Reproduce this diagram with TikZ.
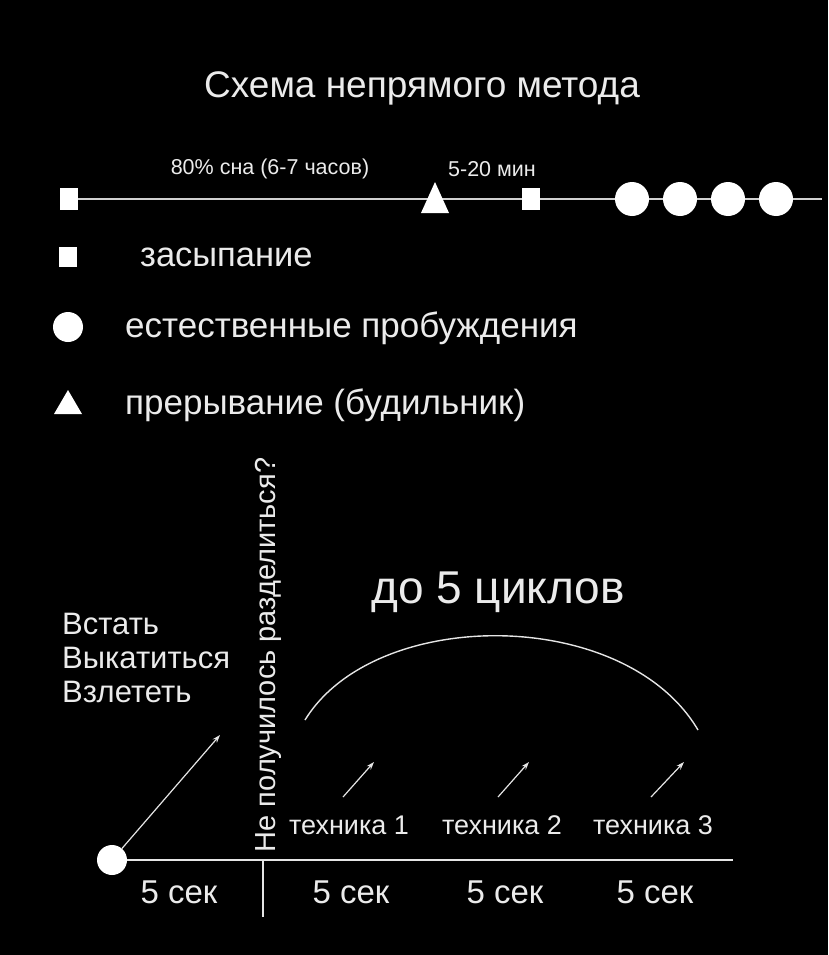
\documentclass[tikz,border=0pt]{standalone}
\usepackage{fontspec}
\setmainfont{Liberation Sans}
\usetikzlibrary{arrows.meta}
\pgfdeclarelayer{bg}
\pgfdeclarelayer{lines}
\pgfsetlayers{bg,lines,main}
\newcommand{\fsz}[1]{\fontsize{#1}{#1}\selectfont}
\tikzset{
  sq/.style={fill=white, draw=none, minimum width=18pt, minimum height=22pt, inner sep=0pt},
  sqs/.style={fill=white, draw=none, minimum width=18pt, minimum height=20pt, inner sep=0pt},
  dot/.style={circle, fill=white, draw=none, minimum size=34pt, inner sep=0pt},
  dots/.style={circle, fill=white, draw=none, minimum size=30pt, inner sep=0pt},
  tri/.style={fill=white, draw=none},
  txt/.style={text=white!92!black, inner sep=0pt},
  tl/.style={draw=white!82!black, line width=2pt},
  ar/.style={draw=white!90!black, line width=1.2pt, -{Stealth[length=8pt,width=5.5pt]}},
  ln/.style={draw=white!90!black, line width=1.4pt},
}
\begin{document}
\begin{tikzpicture}[x=1pt,y=-1pt]
\begin{pgfonlayer}{bg}
\fill[black] (0,0) rectangle (828,955);
\end{pgfonlayer}
\useasboundingbox (0,0) rectangle (828,955);

% title
\node[txt, font=\fsz{37}] (title) at (422,88) {Схема непрямого метода};

% timeline
\node[sq] (s1) at (69,199) {};
\node[tri] (t1) at (435,200) {};
\fill[white] (421,213) -- (435,182) -- (449,213) -- cycle;
\node[sq] (s2) at (531,199) {};
\node[dot] (c1) at (632,199) {};
\node[dot] (c2) at (680,199) {};
\node[dot] (c3) at (728,199) {};
\node[dot] (c4) at (776,199) {};
\coordinate (tend) at (822,199);
\begin{pgfonlayer}{lines}
\draw[tl] (s1) -- (tend);
\end{pgfonlayer}
\node[txt, font=\fsz{21.5}] (lab1) at (270,169) {80\% сна (6-7 часов)};
\node[txt, font=\fsz{21.5}] (lab2) at (492,169) {5-20 мин};

% legend
\node[sqs] (ls) at (68,257) {};
\node[txt, font=\fsz{34.5}, anchor=west] (lst) at (140,257) {засыпание};
\node[dots] (lc) at (68,327) {};
\node[txt, font=\fsz{35}, anchor=west] (lct) at (125,328) {естественные пробуждения};
\fill[white] (54,414) -- (68,390) -- (82,414) -- cycle;
\coordinate (lt) at (68,404);
\node[txt, font=\fsz{35}, anchor=west] (ltt) at (125,405) {прерывание (будильник)};

% bottom
\node[txt, font=\fsz{31}, anchor=north west, align=left] (opts) at (62,613) {Встать\\[3pt]Выкатиться\\[3pt]Взлететь};
\node[txt, font=\fsz{29}, rotate=90] (q) at (268,655) {Не получилось разделиться?};
\node[txt, font=\fsz{46}] (cyc) at (498,592) {до 5 циклов};
\coordinate (arcL) at (305,720);
\coordinate (arcR) at (698,730);
\draw[ln] (arcL) .. controls (375,606) and (625,606) .. (arcR);

\node[txt, font=\fsz{27}] (tq1) at (349,825) {техника 1};
\node[txt, font=\fsz{27}] (tq2) at (502,825) {техника 2};
\node[txt, font=\fsz{27}] (tq3) at (653,825) {техника 3};
\coordinate (a1s) at (343,797); \coordinate (a1e) at (374,762);
\coordinate (a2s) at (498,797); \coordinate (a2e) at (529,762);
\coordinate (a3s) at (651,797); \coordinate (a3e) at (684,762);
\draw[ar] (a1s) -- (a1e);
\draw[ar] (a2s) -- (a2e);
\draw[ar] (a3s) -- (a3e);

\node[dots] (start) at (112,860) {};
\coordinate (bigend) at (220,735);
\coordinate (axend) at (733,860);
\coordinate (vtop) at (263,860);
\coordinate (vbot) at (263,917);
\begin{pgfonlayer}{lines}
\draw[ln] (start) -- (axend);
\end{pgfonlayer}
\draw[ar] (start) -- (bigend);
\draw[ln] (vtop) -- (vbot);

\node[txt, font=\fsz{33}] (d1) at (179,892) {5 сек};
\node[txt, font=\fsz{33}] (d2) at (351,892) {5 сек};
\node[txt, font=\fsz{33}] (d3) at (505,892) {5 сек};
\node[txt, font=\fsz{33}] (d4) at (655,892) {5 сек};
\end{tikzpicture}
\end{document}
